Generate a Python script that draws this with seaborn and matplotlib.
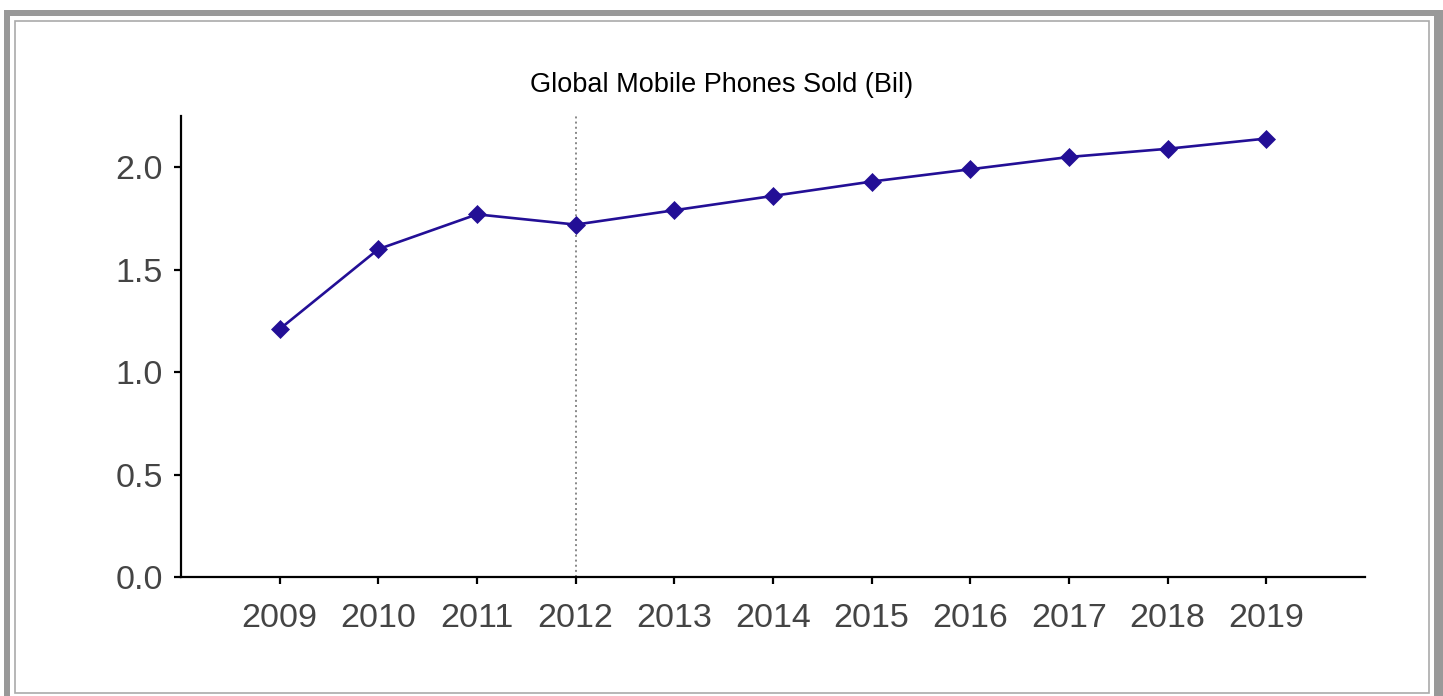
import matplotlib
matplotlib.use("Agg")
import matplotlib.pyplot as plt
import seaborn as sns
import pandas as pd
from matplotlib.patches import Rectangle

years = [2009, 2010, 2011, 2012, 2013, 2014, 2015, 2016, 2017, 2018, 2019]
sold = [1.21, 1.60, 1.77, 1.72, 1.79, 1.86, 1.93, 1.99, 2.05, 2.09, 2.14]
y_ticks = [0.0, 0.5, 1.0, 1.5, 2.0]
marker_year = 2012
title = "Global Mobile Phones Sold (Bil)"

W, H = 1443, 696

sns.set_style("ticks")
plt.rcParams['font.family'] = ['Liberation Sans', 'DejaVu Sans']

df = pd.DataFrame({"year": years, "sold": sold})

fig = plt.figure(figsize=(W / 100, H / 100), dpi=100)
ax = fig.add_axes([181 / W, 1 - 577 / H, (1365 - 181) / W, (577 - 116) / H])
ax.set_facecolor("none")


def px_rect(x0, y0, x1, y1, **kw):
    # rectangle given in pixel coords (top-left origin)
    return Rectangle((x0 / W, 1 - y1 / H), (x1 - x0) / W, (y1 - y0) / H,
                     transform=fig.transFigure, **kw)


# frame around the figure
fig.patches.append(px_rect(4, 10, W + 5, H + 5, facecolor="#999999", edgecolor="none", zorder=-3))
fig.patches.append(px_rect(10, 16, 1434, H + 5, facecolor="white", edgecolor="none", zorder=-2))
fig.patches.append(px_rect(15, 21, 1429, 693, facecolor="none", edgecolor="#aaaaaa", lw=1.2, zorder=-1))

color = "#230f96"
sns.lineplot(data=df, x="year", y="sold", ax=ax, color=color, lw=1.9,
             marker="D", markersize=9.5, markeredgecolor=color, markeredgewidth=0.5)

ax.axvline(marker_year, color="#888888", ls=":", lw=1.4, zorder=0)

ax.set_xlim(2008, 2020)
ax.set_ylim(0, 2.25)
ax.set_xticks(years)
ax.set_xticklabels([str(y) for y in years])
ax.set_yticks(y_ticks)
ax.set_yticklabels([f"{v:.1f}" for v in y_ticks])
ax.set_xlabel("")
ax.set_ylabel("")

sns.despine(ax=ax)
for s in ["left", "bottom"]:
    ax.spines[s].set_linewidth(1.6)
    ax.spines[s].set_color("black")

ax.tick_params(axis="both", length=5, width=1.6, color="black", labelsize=24.5, labelcolor="#444444")
ax.tick_params(axis="x", pad=14)
ax.tick_params(axis="y", pad=8)

fig.text(0.5, 1 - 92 / H, title, ha="center", va="baseline", fontsize=19.5, color="black")

fig.savefig("out.png", dpi=100)
